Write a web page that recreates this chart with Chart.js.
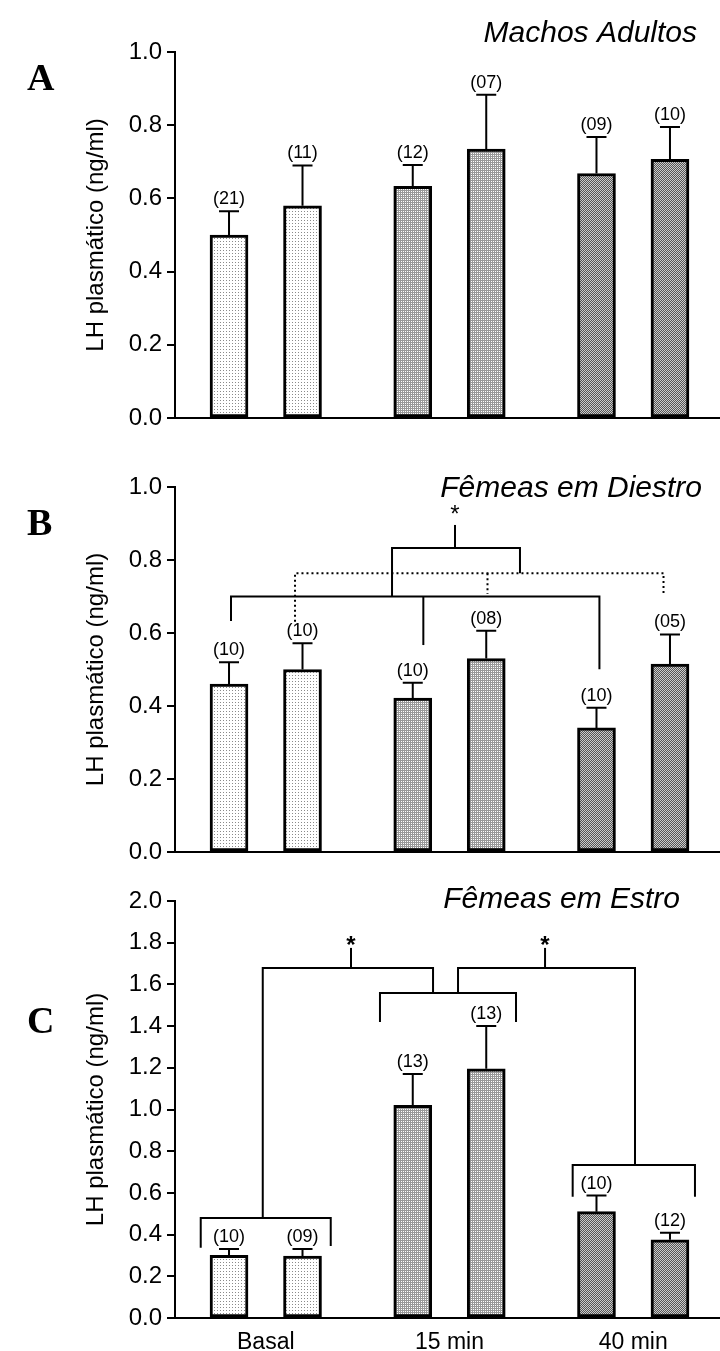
<!DOCTYPE html>
<html>
<head>
<meta charset="utf-8">
<script src="https://cdn.jsdelivr.net/npm/chart.js@4.4.1/dist/chart.umd.min.js"></script>
<style>
    html, body { margin: 0; padding: 0; background: #fff; }
    #figura { position: relative; width: 720px; height: 1351px; }
    #figura canvas { position: absolute; left: 0; }
</style>
</head>
<body>
<div id="figura">
    <canvas id="painel-a" width="720" height="440" style="top:0;width:720px;height:440px"></canvas>
    <canvas id="painel-b" width="720" height="440" style="top:440px;width:720px;height:440px"></canvas>
    <canvas id="painel-c" width="720" height="471" style="top:880px;width:720px;height:471px"></canvas>
</div>
<script>
const FONT = 'Arial, "Liberation Sans", Helvetica, sans-serif';

// Posição de cada barra no eixo x e os rótulos dos três tempos
const barPositions = [0, 1, 2.5, 3.5, 5, 6];
const groupTicks = [0.5, 3, 5.5];
const groupLabels = ['Basal', '15 min', '40 min'];

// A - machos adultos
const machosMean = [0.50, 0.58, 0.633, 0.735, 0.668, 0.707];
const machosSem = [0.065, 0.11, 0.058, 0.148, 0.10, 0.088];
const machosN = ['(21)', '(11)', '(12)', '(07)', '(09)', '(10)'];

// B - fêmeas em diestro
const diestroMean = [0.46, 0.50, 0.422, 0.53, 0.34, 0.515];
const diestroSem = [0.06, 0.072, 0.042, 0.076, 0.055, 0.081];
const diestroN = ['(10)', '(10)', '(10)', '(08)', '(10)', '(05)'];

// C - fêmeas em estro
const estroMean = [0.30, 0.297, 1.02, 1.195, 0.51, 0.375];
const estroSem = [0.031, 0.034, 0.15, 0.205, 0.077, 0.034];
const estroN = ['(10)', '(09)', '(13)', '(13)', '(10)', '(12)'];

// Chaves de comparação (x nas unidades do eixo, y em ng/ml)
const diestroSolid = [
    [[0.027, 0.633], [0.027, 0.70], [5.04, 0.70], [5.04, 0.501]],
    [[2.644, 0.70], [2.644, 0.567]],
    [[2.218, 0.70], [2.218, 0.833], [3.959, 0.833], [3.959, 0.764]],
    [[3.075, 0.833], [3.075, 0.896]]
];
const diestroDotted = [
    [[0.898, 0.631], [0.898, 0.764], [5.912, 0.764], [5.912, 0.704]],
    [[3.517, 0.764], [3.517, 0.707]]
];
const diestroStars = [[3.075, 0.904]];

const estroSolid = [
    [[-0.385, 0.337], [-0.385, 0.48], [1.384, 0.48], [1.384, 0.345]],
    [[0.459, 0.48], [0.459, 1.679], [2.776, 1.679], [2.776, 1.559]],
    [[1.66, 1.679], [1.66, 1.775]],
    [[2.054, 1.42], [2.054, 1.559], [3.905, 1.559], [3.905, 1.42]],
    [[3.116, 1.559], [3.116, 1.679], [5.524, 1.679], [5.524, 0.734]],
    [[4.30, 1.679], [4.30, 1.775]],
    [[4.676, 0.582], [4.676, 0.734], [6.34, 0.734], [6.34, 0.582]]
];
const estroStars = [[1.66, 1.75], [4.30, 1.75]];

Chart.defaults.font.family = FONT;
Chart.defaults.color = '#000';

// Texturas das barras: pontilhado, malha e xadrez
function makePattern(size, paint) {
    const c = document.createElement('canvas');
    c.width = size;
    c.height = size;
    const g = c.getContext('2d');
    paint(g);
    return g.createPattern(c, 'repeat');
}
const dotted = makePattern(3, g => {
    g.fillStyle = '#fff'; g.fillRect(0, 0, 3, 3);
    g.fillStyle = '#8a8a8a'; g.fillRect(1, 1, 1, 1);
});
const mesh = makePattern(2, g => {
    g.fillStyle = '#999'; g.fillRect(0, 0, 2, 2);
    g.fillStyle = '#fff'; g.fillRect(1, 1, 1, 1);
});
const checker = makePattern(2, g => {
    g.fillStyle = '#555'; g.fillRect(0, 0, 2, 2);
    g.fillStyle = '#ccc'; g.fillRect(0, 0, 1, 1); g.fillRect(1, 1, 1, 1);
});
const barFills = [dotted, dotted, mesh, mesh, checker, checker];

// Barras de erro, n de cada grupo, chaves, asteriscos e textos do painel
function marksPlugin(p) {
    return {
        id: 'marcas',
        afterDatasetsDraw(chart) {
            const { ctx, scales: { x, y } } = chart;
            const meta = chart.getDatasetMeta(0);
            ctx.save();
            ctx.strokeStyle = '#000';
            ctx.fillStyle = '#000';
            ctx.lineWidth = 2;

            p.sem.forEach((s, i) => {
                const bar = meta.data[i];
                const top = y.getPixelForValue(p.mean[i] + s);
                ctx.beginPath();
                ctx.moveTo(bar.x, bar.y);
                ctx.lineTo(bar.x, top);
                ctx.moveTo(bar.x - 10, top);
                ctx.lineTo(bar.x + 10, top);
                ctx.stroke();
                ctx.font = '18px ' + FONT;
                ctx.textAlign = 'center';
                ctx.textBaseline = 'alphabetic';
                ctx.fillText(p.n[i], bar.x, top - 7);
            });

            const drawLines = (lines, dash) => {
                ctx.setLineDash(dash);
                lines.forEach(pts => {
                    ctx.beginPath();
                    pts.forEach(([vx, vy], k) => {
                        const px = x.getPixelForValue(vx);
                        const py = y.getPixelForValue(vy);
                        if (k === 0) ctx.moveTo(px, py); else ctx.lineTo(px, py);
                    });
                    ctx.stroke();
                });
            };
            drawLines(p.solid || [], []);
            drawLines(p.dotted || [], [2, 3]);
            ctx.setLineDash([]);

            ctx.font = (p.boldStars ? 'bold ' : '') + '24px ' + FONT;
            (p.stars || []).forEach(([vx, vy]) => {
                ctx.fillText('*', x.getPixelForValue(vx), y.getPixelForValue(vy));
            });

            ctx.font = 'bold 38px "Liberation Serif", "Times New Roman", serif';
            ctx.textAlign = 'left';
            ctx.fillText(p.letter, 27, p.letterY);

            ctx.font = 'italic 30px ' + FONT;
            ctx.textAlign = 'right';
            ctx.fillText(p.title, p.titleX, p.titleY);
            ctx.restore();
        }
    };
}

function makePanel(canvasId, p) {
    return new Chart(document.getElementById(canvasId), {
        type: 'bar',
        data: {
            datasets: [{
                data: barPositions.map((pos, i) => ({ x: pos, y: p.mean[i] })),
                backgroundColor: barFills,
                borderColor: '#000',
                borderWidth: 3,
                borderSkipped: false,
                barThickness: 38
            }]
        },
        options: {
            responsive: false,
            animation: false,
            layout: { padding: { top: p.padTop, bottom: p.padBottom, left: 0, right: 1 } },
            plugins: { legend: { display: false }, tooltip: { enabled: false } },
            scales: {
                x: {
                    type: 'linear',
                    offset: false,
                    min: -0.735,
                    max: 6.667,
                    grid: { display: false },
                    border: { display: true, color: '#000', width: 2 },
                    afterBuildTicks: axis => {
                        axis.ticks = groupTicks.map(v => ({ value: v }));
                    },
                    afterFit: axis => { axis.height = p.xHeight; },
                    ticks: {
                        display: p.showX,
                        autoSkip: false,
                        padding: 3,
                        font: { size: 23 },
                        color: '#000',
                        callback: (v, i) => groupLabels[i]
                    }
                },
                y: {
                    min: 0,
                    max: p.yMax,
                    afterFit: axis => { axis.width = 175; },
                    border: { display: true, color: '#000', width: 2 },
                    grid: {
                        drawOnChartArea: false,
                        drawTicks: true,
                        tickLength: 8,
                        color: '#000',
                        lineWidth: 2
                    },
                    ticks: {
                        stepSize: 0.2,
                        padding: 5,
                        font: { size: 24 },
                        color: '#000',
                        callback: v => v.toFixed(1)
                    },
                    title: {
                        display: true,
                        text: 'LH plasmático (ng/ml)',
                        font: { size: 24 },
                        color: '#000',
                        padding: { top: 82, bottom: 0 }
                    }
                }
            }
        },
        plugins: [marksPlugin(p)]
    });
}

makePanel('painel-a', {
    mean: machosMean, sem: machosSem, n: machosN, yMax: 1.0,
    padTop: 52, padBottom: 22, xHeight: 0, showX: false,
    letter: 'A', letterY: 90, title: 'Machos Adultos', titleX: 697, titleY: 42
});

makePanel('painel-b', {
    mean: diestroMean, sem: diestroSem, n: diestroN, yMax: 1.0,
    padTop: 47, padBottom: 28, xHeight: 0, showX: false,
    solid: diestroSolid, dotted: diestroDotted, stars: diestroStars, boldStars: false,
    letter: 'B', letterY: 95, title: 'Fêmeas em Diestro', titleX: 702, titleY: 57
});

makePanel('painel-c', {
    mean: estroMean, sem: estroSem, n: estroN, yMax: 2.0,
    padTop: 21, padBottom: 0, xHeight: 33, showX: true,
    solid: estroSolid, stars: estroStars, boldStars: true,
    letter: 'C', letterY: 153, title: 'Fêmeas em Estro', titleX: 680, titleY: 28
});
</script>
</body>
</html>
